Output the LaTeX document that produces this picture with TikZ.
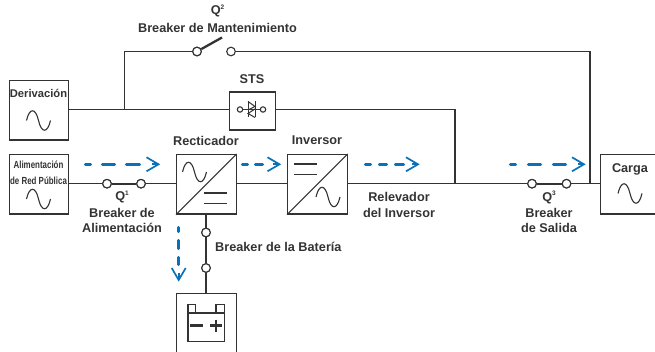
\documentclass[tikz,border=0pt]{standalone}
\usepackage{fontspec}
\setmainfont{Liberation Sans}
\newfontfamily\condf[FakeStretch=0.77]{Liberation Sans}
\definecolor{ink}{HTML}{333333}
\definecolor{flow}{HTML}{0A71B8}
\tikzset{x=1pt,y=-1pt,
 wire/.style={draw=ink,line width=1.15pt},
 box/.style={draw=ink,line width=1.15pt,fill=white,minimum width=59.5pt,minimum height=59.5pt,inner sep=0pt,anchor=north west},
 term/.style={circle,draw=ink,line width=1.1pt,fill=white,minimum size=8.6pt,inner sep=0pt},
 closed/.style={draw=ink,line width=2.3pt},
 lab/.style={font=\bfseries\fontsize{12.7pt}{15.5pt}\selectfont,text=ink,align=center,inner sep=0pt},
 flowline/.style={draw=flow,line width=2.6pt,line cap=round},
 flowstem/.style={draw=flow,line width=1.6pt},
 flowhead/.style={draw=flow,line width=1.7pt},
 sym/.style={draw=ink,line width=1.1pt},
}
\newcommand{\sinew}[2]{\draw[sym] (#1-12,#2) .. controls (#1-9,#2-13) and (#1-3,#2-13) .. (#1,#2) .. controls (#1+3,#2+13) and (#1+9,#2+13) .. (#1+12,#2);}
\newcommand{\qsup}[1]{\raisebox{.42em}{\fontsize{6.5pt}{6.5pt}\selectfont #1}}
\begin{document}
\begin{tikzpicture}
\useasboundingbox (0,0) rectangle (655,352);
\clip (0,0) rectangle (655,352);
% boxes
\node[box] (der) at (8.5,80) {};
\node[box] (ali) at (8.5,154) {};
\node[box] (rec) at (176,154) {};
\node[box] (inv) at (287,154) {};
\node[box,minimum width=70pt] (car) at (600,154) {};
\node[box,minimum height=80pt] (bat) at (176,293) {};
\node[box,minimum width=46pt,minimum height=38pt] (sts) at (229,91.5) {};
% coordinates
\coordinate (jtop) at (124.5,109.5);
\coordinate (ctl) at (124.5,51.5);
\coordinate (ctr) at (590,51.5);
\coordinate (jout) at (590,183.7);
\coordinate (jsts) at (455,183.7);
\coordinate (stsr) at (455,109.5);
% switches
\node[term] (q2a) at (197,51.5) {};
\node[term] (q2b) at (231,51.5) {};
\node[term] (q1a) at (107,183.7) {};
\node[term] (q1b) at (141,183.7) {};
\node[term] (q3a) at (532,183.7) {};
\node[term] (q3b) at (566.5,183.7) {};
\node[term] (qba) at (206,232.5) {};
\node[term] (qbb) at (206,268) {};
\coordinate (q2tip) at (222,37.5);
% wires
\draw[wire] (der.east |- jtop) -- (sts.west |- jtop);
\draw[wire] (jtop) -- (ctl) -- (q2a);
\draw[wire] (q2b) -- (ctr) -- (jout);
\draw[wire] (sts.east |- stsr) -- (stsr) -- (jsts);
\draw[wire] (ali.east |- q1a) -- (q1a);
\draw[wire] (q1b) -- (rec.west |- q1b);
\draw[wire] (rec.east |- q1a) -- (inv.west |- q1a);
\draw[wire] (inv.east |- q1a) -- (q3a);
\draw[wire] (q3b) -- (car.west |- q3b);
\draw[wire] (rec.south -| qba) -- (qba);
\draw[wire] (qbb) -- (bat.north -| qbb);
\draw[closed] (q1a) -- (q1b);
\draw[closed] (q3a) -- (q3b);
\draw[closed] (qba) -- (qbb);
\draw[closed] (q2a) -- (q2tip);
\node[term] at (q2a) {};
\node[term] at (q1a) {};
\node[term] at (q1b) {};
\node[term] at (q3a) {};
\node[term] at (q3b) {};
\node[term] at (qba) {};
\node[term] at (qbb) {};
% labels
\node[lab] (tq2) at (217.5,11) {Q\qsup{2}};
\node[lab] (tbm) at (217.5,27.5) {Breaker de Mantenimiento};
\node[lab] (tsts) at (252,79.5) {STS};
\node[lab] (trec) at (206,140.5) {Recticador};
\node[lab] (tinv) at (317,140.5) {Inversor};
\node[lab,font=\bfseries\fontsize{11.2pt}{13pt}\selectfont] (tder) at (38.5,93.5) {Derivación};
\node[lab,font=\condf\bfseries\fontsize{10.3pt}{15.5pt}\selectfont] (tali) at (38.5,173) {Alimentación\\de Red Pública};
\node[lab] (tcar) at (630,169) {Carga};
\node[lab] (tq1) at (122,197) {Q\qsup{1}};
\node[lab] (tba) at (122,220.5) {Breaker de\\Alimentación};
\node[lab,anchor=west] (tbb) at (215,247) {Breaker de la Batería};
\node[lab] (tri) at (399,205) {Relevador\\del Inversor};
\node[lab] (tq3) at (549,197.5) {Q\qsup{3}};
\node[lab] (tbs) at (549,220.5) {Breaker\\de Salida};
% AC / DC symbols
\sinew{38.5}{120.5}
\sinew{38.5}{199}
\sinew{630}{193.5}
\draw[sym] (rec.south west) -- (rec.north east);
\sinew{194.5}{172}
\draw[sym] (204,193) -- (227,193) (204,203.5) -- (227,203.5);
\draw[sym] (inv.south west) -- (inv.north east);
\draw[sym] (294,164) -- (317,164) (294,174.5) -- (317,174.5);
\sinew{328}{197}
% STS symbol
\draw[sym,fill=white] (240,109.5) circle (2.7);
\draw[sym,fill=white] (263,109.5) circle (2.7);
\draw[sym] (242.7,109.5) -- (260.3,109.5);
\draw[sym,line width=1pt] (248,101.5) -- (248,117.5) (255,101.5) -- (255,117.5);
\draw[sym,line width=1pt] (248,101.5) -- (255,106.5) -- (248,110) (255,109) -- (248,113.5) -- (255,117.5);
% battery
\draw[sym] (188,313) rectangle (224.5,341.5);
\draw[sym] (188,304.5) rectangle (195.5,313);
\draw[sym] (216,304.5) rectangle (224.5,313);
\draw[ink,line width=2.6pt] (190,325.5) -- (203,325.5);
\draw[ink,line width=2.6pt] (210,325.5) -- (222,325.5) (216,319.5) -- (216,331.5);
% flow arrows
\draw[flowline] (85.3,164.3) -- (90.7,164.3) (102.3,164.3) -- (114.7,164.3) (126.3,164.3) -- (139.7,164.3);
\draw[flowstem] (152,164.3) -- (157,164.3);
\draw[flowhead] (146.5,157.3) -- (158.5,164.3) -- (146.5,171.3);
\draw[flowline] (242.3,164.3) -- (247.7,164.3) (255.3,164.3) -- (262.7,164.3);
\draw[flowstem] (273,164.3) -- (278,164.3);
\draw[flowhead] (267.5,157.3) -- (279.5,164.3) -- (267.5,171.3);
\draw[flowline] (365.3,164.3) -- (370.7,164.3) (379.3,164.3) -- (386.7,164.3) (395.3,164.3) -- (403.7,164.3);
\draw[flowstem] (412,164.3) -- (417,164.3);
\draw[flowhead] (406,157.3) -- (418,164.3) -- (406,171.3);
\draw[flowline] (510.3,164.3) -- (515.7,164.3) (528.3,164.3) -- (540.7,164.3) (553.3,164.3) -- (565.7,164.3);
\draw[flowstem] (578,164.3) -- (583,164.3);
\draw[flowhead] (572,157.3) -- (584,164.3) -- (572,171.3);
\draw[flowline] (178.7,227.3) -- (178.7,231.7) (178.7,240.3) -- (178.7,248.7) (178.7,257.3) -- (178.7,264.7);
\draw[flowstem] (178.7,273) -- (178.7,279);
\draw[flowhead] (171.7,268) -- (178.7,280) -- (185.7,268);
\end{tikzpicture}
\end{document}
